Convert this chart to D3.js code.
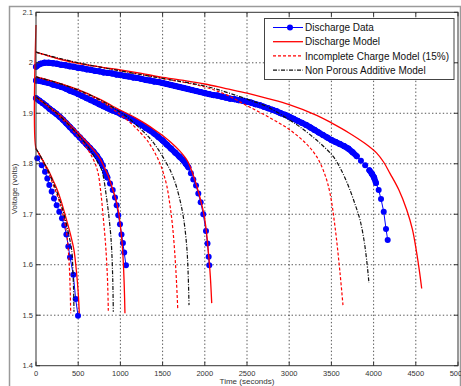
<!DOCTYPE html>
<html><head><meta charset="utf-8">
<script src="https://cdn.jsdelivr.net/npm/d3@7"></script>
<style>body{margin:0;background:#fff}svg{display:block}text{font-family:"Liberation Sans",Arial,sans-serif}</style>
</head><body>
<svg id="c" width="461" height="386"></svg>
<script>
const xTicks = [0,500,1000,1500,2000,2500,3000,3500,4000,4500,5000];
const yTicks = [1.4,1.5,1.6,1.7,1.8,1.9,2.0,2.1];
const yTickLabels = ["1.4","1.5","1.6","1.7","1.8","1.9","2","2.1"];
const legendLabels = ["Discharge Data","Discharge Model","Incomplete Charge Model (15%)","Non Porous Additive Model"];

// Discharge data (time s, voltage V)
const dataA = [[15,1.811],[68,1.797],[107,1.784],[134,1.771],[158,1.758],[186,1.745],[213,1.731],[245,1.718],[276,1.705],[308,1.692],[335,1.678],[360,1.660],[383,1.636],[403,1.615],[442,1.580],[470,1.532],[498,1.499]];
const dataB = [[0,1.930],[40,1.925],[80,1.920],[120,1.915],[160,1.909],[200,1.904],[240,1.899],[280,1.893],[320,1.887],[360,1.880],[400,1.873],[440,1.866],[480,1.859],[520,1.852],[560,1.845],[600,1.838],[640,1.831],[680,1.824],[720,1.816],[760,1.806],[790,1.796],[818,1.784],[845,1.773],[877,1.761],[909,1.748],[936,1.733],[956,1.718],[975,1.698],[995,1.680],[1013,1.660],[1030,1.643],[1045,1.624],[1066,1.599]];
const dataC = [[0,1.965],[50,1.964],[100,1.962],[150,1.960],[200,1.957],[250,1.955],[300,1.952],[350,1.949],[400,1.945],[450,1.942],[500,1.938],[550,1.934],[600,1.930],[650,1.926],[700,1.922],[750,1.918],[800,1.914],[850,1.910],[900,1.906],[950,1.903],[1000,1.899],[1050,1.895],[1100,1.891],[1150,1.887],[1200,1.882],[1250,1.877],[1300,1.871],[1350,1.866],[1400,1.860],[1450,1.853],[1500,1.846],[1550,1.838],[1600,1.830],[1650,1.822],[1700,1.814],[1745,1.807],[1775,1.800],[1805,1.793],[1835,1.781],[1864,1.769],[1896,1.757],[1923,1.741],[1951,1.724],[1982,1.700],[2014,1.667],[2032,1.642],[2046,1.616],[2053,1.599]];
const dataD = [[0,1.992],[50,1.998],[100,2.000],[150,2.000],[200,1.999],[250,1.998],[300,1.996],[350,1.995],[400,1.993],[450,1.992],[500,1.990],[550,1.989],[600,1.987],[650,1.986],[700,1.984],[750,1.983],[800,1.981],[850,1.980],[900,1.979],[950,1.977],[1000,1.976],[1050,1.974],[1100,1.973],[1150,1.971],[1200,1.970],[1250,1.968],[1300,1.966],[1350,1.965],[1400,1.963],[1450,1.962],[1500,1.960],[1550,1.958],[1600,1.956],[1650,1.954],[1700,1.952],[1750,1.950],[1800,1.948],[1850,1.946],[1900,1.944],[1950,1.942],[2000,1.940],[2050,1.938],[2100,1.936],[2150,1.935],[2200,1.933],[2250,1.931],[2300,1.929],[2350,1.928],[2400,1.926],[2450,1.925],[2500,1.923],[2550,1.921],[2600,1.918],[2650,1.916],[2700,1.913],[2750,1.910],[2800,1.907],[2850,1.904],[2900,1.900],[2950,1.897],[3000,1.893],[3050,1.889],[3100,1.885],[3150,1.881],[3200,1.877],[3250,1.872],[3300,1.867],[3350,1.862],[3400,1.857],[3450,1.852],[3500,1.847],[3550,1.843],[3600,1.839],[3650,1.835],[3700,1.830],[3750,1.823],[3800,1.815],[3850,1.806],[3900,1.797],[3950,1.787],[3980,1.780],[4005,1.773],[4028,1.762],[4060,1.748],[4088,1.730],[4120,1.705],[4147,1.671],[4167,1.649]];

// Discharge model
const modelA = [[0,2.075],[0,1.830],[25,1.823],[50,1.816],[100,1.801],[150,1.786],[200,1.768],[250,1.749],[300,1.725],[363,1.688],[410,1.659],[450,1.629],[480,1.585],[500,1.545],[513,1.504]];
const modelB = [[0,1.932],[100,1.920],[200,1.907],[300,1.894],[400,1.878],[500,1.861],[600,1.843],[700,1.824],[760,1.810],[800,1.796],[850,1.778],[900,1.754],[950,1.727],[975,1.707],[1000,1.677],[1020,1.643],[1035,1.603],[1046,1.556],[1054,1.504]];
const modelC = [[0,1.972],[100,1.968],[200,1.963],[300,1.958],[400,1.953],[500,1.947],[600,1.940],[700,1.932],[800,1.924],[900,1.915],[1000,1.906],[1100,1.898],[1200,1.889],[1300,1.879],[1400,1.868],[1500,1.856],[1600,1.842],[1700,1.826],[1750,1.816],[1800,1.804],[1864,1.777],[1923,1.745],[1982,1.706],[2014,1.673],[2046,1.618],[2065,1.578],[2082,1.524]];
const modelD = [[0,2.021],[100,2.016],[200,2.011],[284,2.007],[500,1.999],[750,1.992],[1000,1.986],[1250,1.979],[1469,1.972],[1750,1.965],[2000,1.958],[2250,1.949],[2500,1.940],[2750,1.929],[3000,1.917],[3326,1.896],[3500,1.881],[3700,1.862],[3900,1.840],[4037,1.821],[4120,1.803],[4194,1.781],[4300,1.748],[4392,1.709],[4460,1.670],[4511,1.623],[4545,1.585],[4570,1.553]];

// Incomplete charge model (15%)
const incA = [[0,1.830],[50,1.815],[100,1.798],[150,1.781],[200,1.760],[250,1.738],[300,1.712],[340,1.685],[365,1.660],[383,1.629],[398,1.585],[406,1.545],[411,1.504]];
const incB = [[0,1.932],[100,1.919],[200,1.905],[300,1.890],[400,1.873],[500,1.854],[600,1.832],[650,1.818],[700,1.801],[735,1.782],[767,1.745],[797,1.693],[815,1.660],[829,1.629],[845,1.580],[852,1.545],[857,1.507]];
const incC = [[0,1.972],[200,1.963],[400,1.952],[600,1.938],[800,1.921],[1000,1.897],[1100,1.884],[1200,1.868],[1300,1.850],[1351,1.838],[1420,1.818],[1470,1.800],[1508,1.782],[1550,1.756],[1588,1.717],[1620,1.673],[1647,1.616],[1665,1.565],[1679,1.514]];
const incD = [[0,2.021],[250,2.009],[500,2.000],[1000,1.984],[1500,1.969],[2000,1.952],[2250,1.937],[2500,1.915],[2750,1.893],[3000,1.868],[3200,1.840],[3326,1.814],[3420,1.780],[3483,1.742],[3543,1.675],[3602,1.584],[3637,1.520]];

// Non porous additive model
const npaA = [[0,1.830],[50,1.816],[100,1.800],[150,1.784],[200,1.764],[250,1.743],[300,1.718],[350,1.688],[390,1.658],[423,1.629],[438,1.585],[446,1.545],[450,1.507]];
const npaB = [[0,1.932],[100,1.920],[200,1.906],[300,1.892],[400,1.875],[500,1.857],[600,1.837],[700,1.812],[778,1.788],[805,1.768],[829,1.741],[850,1.715],[868,1.689],[885,1.660],[897,1.629],[907,1.585],[912,1.550],[916,1.507]];
const npaC = [[0,1.972],[200,1.963],[400,1.952],[600,1.939],[800,1.923],[1000,1.902],[1100,1.890],[1200,1.875],[1351,1.850],[1450,1.828],[1550,1.800],[1588,1.788],[1650,1.762],[1706,1.728],[1750,1.690],[1786,1.636],[1802,1.585],[1813,1.520]];
const npaD = [[0,2.021],[250,2.010],[500,2.000],[1000,1.984],[1500,1.969],[2000,1.954],[2250,1.942],[2500,1.928],[2750,1.912],[3000,1.887],[3128,1.873],[3350,1.843],[3523,1.814],[3630,1.783],[3720,1.748],[3790,1.715],[3839,1.689],[3885,1.650],[3918,1.609],[3945,1.564]];

const svg = d3.select("#c");
const L = 36, R = 458, T = 12.3, B = 365.7;
const x = d3.scaleLinear().domain([0,5000]).range([L,R]);
const y = d3.scaleLinear().domain([1.4,2.1]).range([B,T]);

// outer frame
svg.append("path").attr("d",`M9.5,386V6.5H460.5V386`).attr("fill","none").attr("stroke","#9a9a9a").attr("stroke-width",1.5);
svg.append("rect").attr("x",L).attr("y",T).attr("width",R-L).attr("height",B-T).attr("fill","#fff");

// grid
const grid = svg.append("g").attr("stroke","#444").attr("stroke-width",0.9).attr("stroke-dasharray","1.4,2.2");
grid.selectAll(".gx").data(xTicks.slice(1,-1)).join("line").attr("x1",d=>x(d)).attr("x2",d=>x(d)).attr("y1",T).attr("y2",B);
grid.selectAll(".gy").data(yTicks.slice(1,-1)).join("line").attr("y1",d=>y(d)).attr("y2",d=>y(d)).attr("x1",L).attr("x2",R);

const lineC = d3.line().x(d=>x(d[0])).y(d=>y(d[1])).curve(d3.curveCatmullRom.alpha(0.5));
const plot = svg.append("g");

const datas = [dataA,dataB,dataC,dataD];
const models = [modelA,modelB,modelC,modelD];
const incs = [incA,incB,incC,incD];
const npas = [npaA,npaB,npaC,npaD];

datas.forEach(ds=>{
  const g = plot.append("g");
  // connecting segments: where markers crowd together they merge into a solid band
  const segs = d3.pairs(ds);
  g.selectAll("line").data(segs).join("line")
    .attr("x1",d=>x(d[0][0])).attr("y1",d=>y(d[0][1]))
    .attr("x2",d=>x(d[1][0])).attr("y2",d=>y(d[1][1]))
    .attr("stroke","#0000ff").attr("stroke-linecap","round")
    .attr("stroke-width",d=>Math.hypot(x(d[1][0])-x(d[0][0]), y(d[1][1])-y(d[0][1])) < 6.2 ? 6 : 1);
  g.selectAll("circle").data(ds).join("circle")
    .attr("cx",d=>x(d[0])).attr("cy",d=>y(d[1])).attr("r",3).attr("fill","#0000ff");
});
models.forEach(ds=>plot.append("path").attr("d",lineC(ds)).attr("fill","none").attr("stroke","#ff0000").attr("stroke-width",1.3));
incs.forEach(ds=>plot.append("path").attr("d",lineC(ds)).attr("fill","none").attr("stroke","#ff0000").attr("stroke-width",1.2).attr("stroke-dasharray","3,2"));
npas.forEach(ds=>plot.append("path").attr("d",lineC(ds)).attr("fill","none").attr("stroke","#111").attr("stroke-width",1.2).attr("stroke-dasharray","4,1.5,1,1.5"));

// axes box + ticks
const ax = svg.append("g").attr("stroke","#333").attr("stroke-width",1);
ax.append("rect").attr("x",L).attr("y",T).attr("width",R-L).attr("height",B-T).attr("fill","none");
xTicks.forEach(t=>{
  ax.append("line").attr("x1",x(t)).attr("x2",x(t)).attr("y1",B).attr("y2",B-4);
  ax.append("line").attr("x1",x(t)).attr("x2",x(t)).attr("y1",T).attr("y2",T+4);
});
yTicks.forEach(t=>{
  ax.append("line").attr("y1",y(t)).attr("y2",y(t)).attr("x1",L).attr("x2",L+4);
  ax.append("line").attr("y1",y(t)).attr("y2",y(t)).attr("x1",R).attr("x2",R-4);
});
const lab = svg.append("g").attr("fill","#333").attr("font-size",7.5);
xTicks.forEach(t=>lab.append("text").attr("x",x(t)).attr("y",B+10).attr("text-anchor","middle").text(t));
yTicks.forEach((t,i)=>lab.append("text").attr("x",L-3).attr("y",y(t)+2.7).attr("text-anchor","end").text(yTickLabels[i]));
svg.append("text").attr("x",(L+R)/2).attr("y",384).attr("text-anchor","middle").attr("font-size",8).attr("fill","#333").text("Time (seconds)");
svg.append("text").attr("transform",`translate(17,${(T+B)/2}) rotate(-90)`).attr("text-anchor","middle").attr("font-size",8).attr("fill","#333").text("Voltage (volts)");

// legend
const lg = svg.append("g");
lg.append("rect").attr("x",264.5).attr("y",18.5).attr("width",189.5).attr("height",61).attr("fill","#fff").attr("stroke","#444");
const styles = [
  {c:"#0000ff",w:1,da:null,m:true},
  {c:"#ff0000",w:1.3,da:null},
  {c:"#ff0000",w:1.2,da:"3,2"},
  {c:"#111",w:1.2,da:"4,1.5,1,1.5"}];
legendLabels.forEach((s,i)=>{
  const yy = 27.5 + i*14.2;
  const st = styles[i];
  const l = lg.append("line").attr("x1",273).attr("x2",303).attr("y1",yy).attr("y2",yy).attr("stroke",st.c).attr("stroke-width",st.w);
  if (st.da) l.attr("stroke-dasharray",st.da);
  if (st.m) lg.append("circle").attr("cx",290).attr("cy",yy).attr("r",3).attr("fill","#0000ff");
  lg.append("text").attr("x",305).attr("y",yy+3.6).attr("font-size",10).attr("fill","#111").text(s);
});
</script>
</body></html>
